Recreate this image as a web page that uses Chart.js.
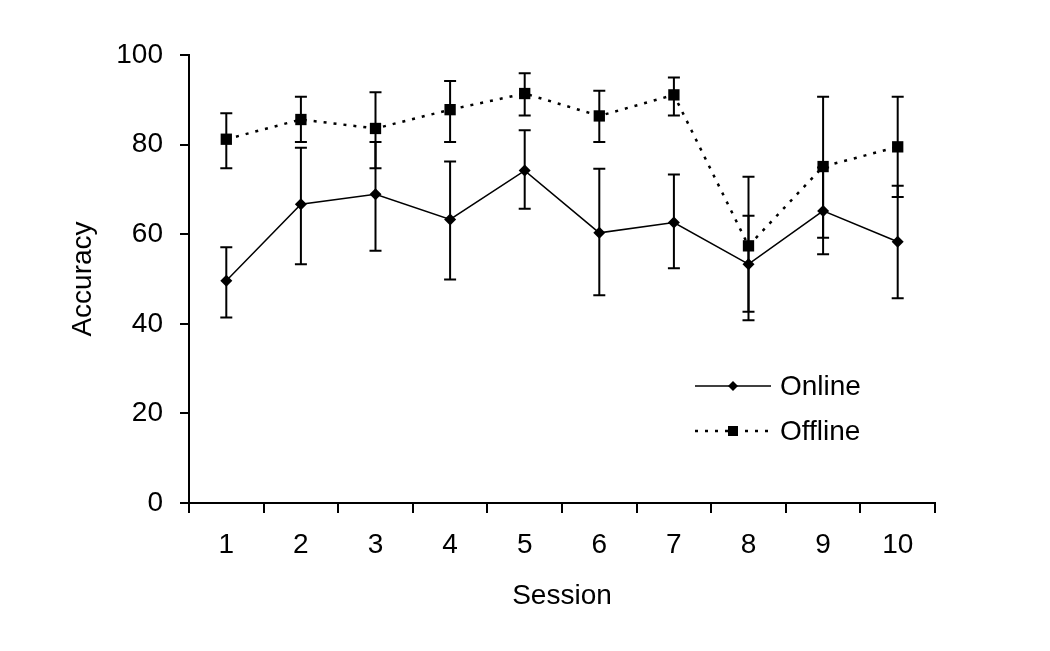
<!DOCTYPE html>
<html>
<head>
<meta charset="utf-8">
<script src="https://cdn.jsdelivr.net/npm/chart.js@4"></script>
<style>
html,body{margin:0;padding:0;background:#fff;}
#wrap{width:1050px;height:651px;}
</style>
</head>
<body>
<div id="wrap"><canvas id="c" width="1050" height="651"></canvas></div>
<script>
// values
const sessions=["1","2","3","4","5","6","7","8","9","10"];
const yTicks=[0,20,40,60,80,100];
const online=[49.6,66.7,68.9,63.3,74.2,60.3,62.6,53.3,65.2,58.3];
const onlineHi=[57.1,79.3,80.6,76.2,83.2,74.6,73.3,64.1,74.9,70.8];
const onlineLo=[41.4,53.3,56.3,49.9,65.7,46.4,52.4,42.7,55.5,45.7];
const offline=[81.2,85.6,83.6,87.8,91.4,86.4,91.1,57.4,75.1,79.5];
const offlineHi=[87.0,90.7,91.7,94.2,95.9,92.0,95.0,72.8,90.7,90.7];
const offlineLo=[74.7,80.6,74.7,80.6,86.5,80.6,86.5,40.8,59.2,68.3];

const FONT="'Liberation Sans', Arial, sans-serif";
Chart.defaults.font.family=FONT;
Chart.defaults.font.size=28;
Chart.defaults.color='#000';

// vertical error bars with caps, drawn through the y scale
const errorBars={
  id:'errorBars',
  beforeDatasetsDraw(chart){
    const ctx=chart.ctx,ys=chart.scales.y;
    chart.data.datasets.forEach((ds,di)=>{
      const meta=chart.getDatasetMeta(di);
      ctx.save();
      ctx.strokeStyle='#000';ctx.lineWidth=2;
      meta.data.forEach((pt,i)=>{
        const yH=ys.getPixelForValue(ds.errHi[i]),yL=ys.getPixelForValue(ds.errLo[i]);
        ctx.beginPath();
        ctx.moveTo(pt.x,yH);ctx.lineTo(pt.x,yL);
        ctx.moveTo(pt.x-6,yH);ctx.lineTo(pt.x+6,yH);
        ctx.moveTo(pt.x-6,yL);ctx.lineTo(pt.x+6,yL);
        ctx.stroke();
      });
      ctx.restore();
    });
  }
};

// legend placed inside the plot area
const innerLegend={
  id:'innerLegend',
  afterDraw(chart){
    const ctx=chart.ctx;
    const rows=[{ds:chart.data.datasets[0],y:386},{ds:chart.data.datasets[1],y:431}];
    rows.forEach(r=>{
      ctx.save();
      ctx.strokeStyle='#000';ctx.fillStyle='#000';
      ctx.lineWidth=r.ds.borderWidth;
      ctx.setLineDash(r.ds.borderDash||[]);
      ctx.beginPath();ctx.moveTo(695,r.y);ctx.lineTo(771,r.y);ctx.stroke();
      ctx.setLineDash([]);
      ctx.beginPath();
      if(r.ds.pointStyle==='rectRot'){
        ctx.moveTo(733,r.y-5);ctx.lineTo(738,r.y);ctx.lineTo(733,r.y+5);ctx.lineTo(728,r.y);
      }else{
        ctx.rect(728,r.y-5,10,10);
      }
      ctx.closePath();ctx.fill();
      ctx.font='28px '+FONT;
      ctx.textBaseline='middle';
      ctx.fillText(r.ds.label,780,r.y+1);
      ctx.restore();
    });
  }
};

new Chart(document.getElementById('c'),{
  type:'line',
  data:{
    labels:sessions,
    datasets:[
      {label:'Online',data:online,errHi:onlineHi,errLo:onlineLo,
        borderColor:'#000',borderWidth:1.5,backgroundColor:'#000',
        pointStyle:'rectRot',pointRadius:6,pointBorderWidth:0,pointBackgroundColor:'#000',tension:0},
      {label:'Offline',data:offline,errHi:offlineHi,errLo:offlineLo,
        borderColor:'#000',borderWidth:2.5,borderDash:[3,7],backgroundColor:'#000',
        pointStyle:'rect',pointRadius:8,pointBorderWidth:0,pointBackgroundColor:'#000',tension:0}
    ]
  },
  options:{
    responsive:false,
    animation:false,
    layout:{padding:{left:0,right:115,top:55,bottom:0}},
    plugins:{legend:{display:false},tooltip:{enabled:false}},
    scales:{
      x:{
        offset:true,
        grid:{offset:true,drawOnChartArea:false,drawTicks:true,tickLength:10,color:'#000',lineWidth:2},
        border:{display:true,color:'#000',width:2},
        ticks:{padding:15,color:'#000',font:{size:28}},
        title:{display:true,text:'Session',color:'#000',font:{size:28},padding:{top:0,bottom:38}},
        afterFit(s){s.height=148;}
      },
      y:{
        min:0,max:100,
        afterBuildTicks(s){s.ticks=yTicks.map(v=>({value:v}));},
        grid:{drawOnChartArea:false,drawTicks:true,tickLength:9,color:'#000',lineWidth:2},
        border:{display:true,color:'#000',width:2},
        ticks:{padding:17,color:'#000',font:{size:28}},
        title:{display:true,text:'Accuracy',color:'#000',font:{size:28},padding:{top:66,bottom:0}},
        afterFit(s){s.width=189;}
      }
    }
  },
  plugins:[errorBars,innerLegend]
});
</script>
</body>
</html>
